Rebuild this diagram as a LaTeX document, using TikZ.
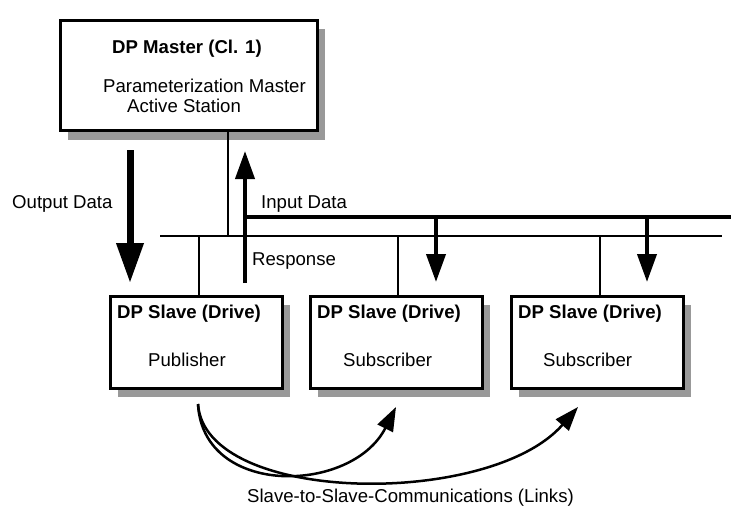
\documentclass[tikz,border=0pt]{standalone}
\usepackage{fontspec}
\setmainfont{Liberation Sans}
\usetikzlibrary{arrows.meta,shadows}

\begin{document}
\begin{tikzpicture}[x=1pt,y=-1pt,
  station/.style={draw,line width=3pt,fill=white,inner sep=0pt,anchor=north west,
    drop shadow={shadow xshift=8pt,shadow yshift=-9pt,fill=black!40,opacity=1}},
  txt/.style={anchor=base west,inner sep=0pt,font=\fontsize{18.6}{22}\selectfont},
  btxt/.style={txt,font=\fontsize{18.6}{22}\selectfont\bfseries},
  busline/.style={line width=1.3pt},
  databus/.style={line width=4pt},
  bigflow/.style={line width=7pt,-{Triangle[length=40pt,width=26pt]}},
  flow/.style={line width=4pt,-{Triangle[length=28pt,width=19pt]}},
  link/.style={line width=2.5pt,-{Triangle[length=24pt,width=17pt]}}
]
\useasboundingbox (0,0) rectangle (731,506);

% stations
\node[station,minimum width=257pt,minimum height=110pt,
  drop shadow={shadow xshift=8pt,shadow yshift=-10pt,fill=black!40,opacity=1}]
  (master) at (58.5,18.5) {};
\node[station,minimum width=172pt,minimum height=92pt] (s1) at (108.5,294.5) {};
\node[station,minimum width=172pt,minimum height=92pt] (s2) at (308.5,294.5) {};
\node[station,minimum width=172pt,minimum height=92pt] (s3) at (509.5,294.5) {};

% station texts
\node[btxt] (mTitle) at (112,53) {DP Master (Cl. 1)};
\node[txt] (mRole) at (103,92) {Parameterization Master};
\node[txt] (mKind) at (127,112) {Active Station};
\node[btxt] (s1Title) at (117,318) {DP Slave (Drive)};
\node[btxt] (s2Title) at (317,318) {DP Slave (Drive)};
\node[btxt] (s3Title) at (518,318) {DP Slave (Drive)};
\node[txt] (s1Role) at (148,366) {Publisher};
\node[txt] (s2Role) at (343,366) {Subscriber};
\node[txt] (s3Role) at (543,366) {Subscriber};

% flow labels
\node[txt] (outLbl) at (12,208) {Output Data};
\node[txt] (inLbl) at (261,208) {Input Data};
\node[txt] (respLbl) at (252,265) {Response};
\node[txt] (linkLbl) at (247,502) {Slave-to-Slave-Communications (Links)};

% bus and taps
\coordinate (busL) at (160,236);
\coordinate (busR) at (722,236);
\coordinate (tapM) at (228,236);
\coordinate (tap1) at (199,236);
\coordinate (tap2) at (398,236);
\coordinate (tap3) at (600,236);
\draw[busline] (busL) -- (busR);
\draw[busline] (master.south -| tapM) -- (tapM);
\draw[busline] (tap1) -- (tap1 |- s1.north);
\draw[busline] (tap2) -- (tap2 |- s2.north);
\draw[busline] (tap3) -- (tap3 |- s3.north);

% data flows
\coordinate (outA) at (130,150);
\coordinate (outB) at (130,283);
\coordinate (respA) at (245,283);
\coordinate (respB) at (245,151);
\coordinate (inL) at (245,217);
\coordinate (inR) at (731,217);
\coordinate (in2A) at (436,217);
\coordinate (in2B) at (436,282);
\coordinate (in3A) at (647,217);
\coordinate (in3B) at (647,282);
\draw[bigflow] (outA) -- (outB);
\draw[flow] (respA) -- (respB);
\draw[databus] (inL) -- (inR);
\draw[flow] (in2A) -- (in2B);
\draw[flow] (in3A) -- (in3B);

% slave-to-slave links
\coordinate (linkSrc) at (198,404);
\coordinate (link2) at (396,407);
\coordinate (link3) at (578,407);
\draw[link] (linkSrc) .. controls (203,498) and (352,494) .. (link2);
\draw[link] (linkSrc) .. controls (205,505) and (490,508) .. (link3);
\end{tikzpicture}
\end{document}
